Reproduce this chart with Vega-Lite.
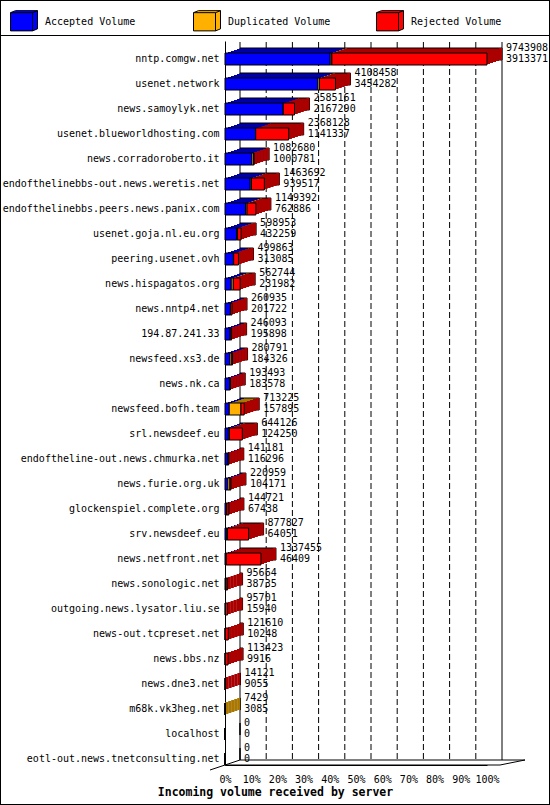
{
  "$schema": "https://vega.github.io/schema/vega-lite/v6.json",
  "width": 550,
  "height": 805,
  "autosize": {"type": "none"},
  "padding": 0,
  "background": "white",
  "config": {
    "view": {"stroke": "black", "strokeWidth": 2},
    "font": "DejaVu Sans Mono",
    "axis": {"labelFont": "DejaVu Sans Mono", "labelFontSize": 10, "labelColor": "black", "domainColor": "black", "domainWidth": 1}
  },
  "datasets": {
    "servers": [
      {"server": "nntp.comgw.net", "total": 9743908, "accepted": 3913371, "duplicated": 60000, "rejected": 5770537},
      {"server": "usenet.network", "total": 4108458, "accepted": 3454282, "duplicated": 60000, "rejected": 594176},
      {"server": "news.samoylyk.net", "total": 2585161, "accepted": 2167290, "duplicated": 0, "rejected": 417871},
      {"server": "usenet.blueworldhosting.com", "total": 2368128, "accepted": 1141337, "duplicated": 0, "rejected": 1226791},
      {"server": "news.corradoroberto.it", "total": 1082680, "accepted": 1000781, "duplicated": 60000, "rejected": 21899},
      {"server": "endofthelinebbs-out.news.weretis.net", "total": 1463692, "accepted": 939517, "duplicated": 45000, "rejected": 479175},
      {"server": "endofthelinebbs.peers.news.panix.com", "total": 1149392, "accepted": 762886, "duplicated": 55000, "rejected": 331506},
      {"server": "usenet.goja.nl.eu.org", "total": 598953, "accepted": 432259, "duplicated": 35000, "rejected": 131694},
      {"server": "peering.usenet.ovh", "total": 499863, "accepted": 313085, "duplicated": 10000, "rejected": 176778},
      {"server": "news.hispagatos.org", "total": 562744, "accepted": 231982, "duplicated": 75000, "rejected": 255762},
      {"server": "news.nntp4.net", "total": 260935, "accepted": 201722, "duplicated": 0, "rejected": 59213},
      {"server": "194.87.241.33", "total": 246093, "accepted": 195898, "duplicated": 0, "rejected": 50195},
      {"server": "newsfeed.xs3.de", "total": 280791, "accepted": 184326, "duplicated": 70000, "rejected": 26465},
      {"server": "news.nk.ca", "total": 193493, "accepted": 183578, "duplicated": 0, "rejected": 9915},
      {"server": "newsfeed.bofh.team", "total": 713225, "accepted": 157895, "duplicated": 435000, "rejected": 120330},
      {"server": "srl.newsdeef.eu", "total": 644126, "accepted": 124250, "duplicated": 40000, "rejected": 479876},
      {"server": "endoftheline-out.news.chmurka.net", "total": 141181, "accepted": 116296, "duplicated": 0, "rejected": 24885},
      {"server": "news.furie.org.uk", "total": 220959, "accepted": 104171, "duplicated": 80000, "rejected": 36788},
      {"server": "glockenspiel.complete.org", "total": 144721, "accepted": 67438, "duplicated": 0, "rejected": 77283},
      {"server": "srv.newsdeef.eu", "total": 877827, "accepted": 64051, "duplicated": 30000, "rejected": 783776},
      {"server": "news.netfront.net", "total": 1337455, "accepted": 46409, "duplicated": 0, "rejected": 1291046},
      {"server": "news.sonologic.net", "total": 95664, "accepted": 38735, "duplicated": 0, "rejected": 56929},
      {"server": "outgoing.news.lysator.liu.se", "total": 95701, "accepted": 15940, "duplicated": 0, "rejected": 79761},
      {"server": "news-out.tcpreset.net", "total": 121610, "accepted": 10248, "duplicated": 0, "rejected": 111362},
      {"server": "news.bbs.nz", "total": 113423, "accepted": 9916, "duplicated": 0, "rejected": 103507},
      {"server": "news.dne3.net", "total": 14121, "accepted": 9055, "duplicated": 0, "rejected": 5066},
      {"server": "m68k.vk3heg.net", "total": 7429, "accepted": 3085, "duplicated": 4344, "rejected": 0},
      {"server": "localhost", "total": 0, "accepted": 0, "duplicated": 0, "rejected": 0},
      {"server": "eotl-out.news.tnetconsulting.net", "total": 0, "accepted": 0, "duplicated": 0, "rejected": 0}
    ],
    "grid": [
      {"tick": 0}, {"tick": 974390.8}, {"tick": 1948781.6}, {"tick": 2923172.4}, {"tick": 3897563.2},
      {"tick": 4871954}, {"tick": 5846344.8}, {"tick": 6820735.6}, {"tick": 7795126.4}, {"tick": 8769517.2},
      {"tick": 9743908}
    ]
  },
  "resolve": {"scale": {"x": "independent"}},
  "layer": [
    {
      "data": {"name": "servers"},
      "layer": [
        {
          "data": {"name": "grid"},
          "transform": [{"filter": "datum.tick > 0 && datum.tick < 9743900"}],
          "mark": {"type": "rule", "color": "black", "strokeDash": [6, 3], "xOffset": 15, "yOffset": -17, "y2Offset": 1},
          "encoding": {
            "x": {
              "field": "tick", "type": "quantitative",
              "scale": {"domain": [0, 9743908], "range": [225, 487], "nice": false},
              "axis": {
                "orient": "bottom", "offset": -40, "values": [0, 974390.8, 1948781.6, 2923172.4, 3897563.2, 4871954, 5846344.8, 6820735.6, 7795126.4, 8769517.2, 9743908],
                "labelExpr": "format(datum.value / 9743908, '.0%')", "labelOverlap": false, "labelFlush": false,
                "ticks": false, "tickSize": 0, "labelPadding": 9, "grid": false, "domain": true,
                "title": "Incoming volume received by server", "titleFont": "DejaVu Sans Mono", "titleFontWeight": "bold", "titleFontSize": 11.5,
                "titleColor": "black", "titleX": 275, "titleY": 27, "titleAlign": "center", "titleBaseline": "middle", "titleAnchor": null
              }
            },
            "y": {
              "datum": "nntp.comgw.net", "type": "nominal",
              "scale": {
                "domain": ["nntp.comgw.net", "usenet.network", "news.samoylyk.net", "usenet.blueworldhosting.com", "news.corradoroberto.it", "endofthelinebbs-out.news.weretis.net", "endofthelinebbs.peers.news.panix.com", "usenet.goja.nl.eu.org", "peering.usenet.ovh", "news.hispagatos.org", "news.nntp4.net", "194.87.241.33", "newsfeed.xs3.de", "news.nk.ca", "newsfeed.bofh.team", "srl.newsdeef.eu", "endoftheline-out.news.chmurka.net", "news.furie.org.uk", "glockenspiel.complete.org", "srv.newsdeef.eu", "news.netfront.net", "news.sonologic.net", "outgoing.news.lysator.liu.se", "news-out.tcpreset.net", "news.bbs.nz", "news.dne3.net", "m68k.vk3heg.net", "localhost", "eotl-out.news.tnetconsulting.net"],
                "range": [41, 765], "paddingInner": 0.52, "paddingOuter": 0.24, "align": 1
              },
              "axis": {"orient": "left", "offset": -225, "ticks": false, "tickSize": 0, "labelPadding": 6, "labelLimit": 300, "domain": true, "grid": false, "title": null}
            },
            "y2": {"datum": "eotl-out.news.tnetconsulting.net"}
          }
        },
        {
          "data": {"name": "grid"},
          "transform": [{"filter": "datum.tick == 0 || datum.tick > 9743900"}],
          "mark": {"type": "rule", "color": "black", "xOffset": 15, "yOffset": -17, "y2Offset": 1},
          "encoding": {
            "x": {"field": "tick", "type": "quantitative"},
            "y": {"datum": "nntp.comgw.net", "type": "nominal"},
            "y2": {"datum": "eotl-out.news.tnetconsulting.net"}
          }
        },
        {
          "data": {"values": [{}]},
          "mark": {"type": "rule", "color": "black", "xOffset": 15, "x2Offset": 38, "yOffset": 1},
          "encoding": {
            "x": {"datum": 0, "type": "quantitative"},
            "x2": {"datum": 9743908},
            "y": {"datum": "eotl-out.news.tnetconsulting.net", "type": "nominal"}
          }
        },
        {
          "data": {"values": [{}]},
          "mark": {"type": "rule", "color": "black", "x2Offset": 13, "yOffset": 6},
          "encoding": {
            "x": {"datum": 0, "type": "quantitative"},
            "x2": {"datum": 9743908},
            "y": {"datum": "eotl-out.news.tnetconsulting.net", "type": "nominal"}
          }
        },
        {
          "data": {"values": [{}]},
          "mark": {"type": "rule", "color": "black", "xOffset": 13, "x2Offset": 38, "yOffset": 6, "y2Offset": 1},
          "encoding": {
            "x": {"datum": 9743908, "type": "quantitative"},
            "x2": {"datum": 9743908},
            "y": {"datum": "eotl-out.news.tnetconsulting.net", "type": "nominal"},
            "y2": {"datum": "eotl-out.news.tnetconsulting.net"}
          }
        },
        {
          "data": {"values": [{}]},
          "mark": {"type": "rule", "color": "black", "xOffset": -15, "x2Offset": 15, "yOffset": 11, "y2Offset": 1},
          "encoding": {
            "x": {"datum": 0, "type": "quantitative"},
            "x2": {"datum": 0},
            "y": {"datum": "eotl-out.news.tnetconsulting.net", "type": "nominal"},
            "y2": {"datum": "eotl-out.news.tnetconsulting.net"}
          }
        },
        {
          "transform": [{"fold": ["accepted", "duplicated", "rejected"], "as": ["kind", "volume"]}],
          "mark": {"type": "bar", "xOffset": 15, "x2Offset": 15, "yOffset": -5},
          "encoding": {
            "x": {"field": "volume", "type": "quantitative", "stack": "zero"},
            "y": {"field": "server", "type": "nominal", "sort": null},
            "fill": {"field": "kind", "type": "nominal", "scale": {"domain": ["rejected", "duplicated", "accepted"], "range": ["#aa0000", "#aa7800", "#0000aa"]}, "legend": null},
            "order": {"field": "kind"}
          }
        },
        {
          "mark": {"type": "bar", "filled": false, "color": "black", "strokeWidth": 1, "xOffset": 15, "x2Offset": 15, "yOffset": -5},
          "encoding": {
            "x": {"field": "total", "type": "quantitative"},
            "x2": {"datum": 0},
            "y": {"field": "server", "type": "nominal", "sort": null}
          }
        },
        {
          "transform": [{"fold": ["accepted", "duplicated", "rejected"], "as": ["kind", "volume"]}],
          "mark": {"type": "bar", "xOffset": 12, "x2Offset": 12, "yOffset": -4},
          "encoding": {
            "x": {"field": "volume", "type": "quantitative", "stack": "zero"},
            "y": {"field": "server", "type": "nominal", "sort": null},
            "fill": {"field": "kind", "type": "nominal", "legend": null},
            "order": {"field": "kind"}
          }
        },
        {
          "transform": [{"fold": ["accepted", "duplicated", "rejected"], "as": ["kind", "volume"]}],
          "mark": {"type": "bar", "xOffset": 9, "x2Offset": 9, "yOffset": -3},
          "encoding": {
            "x": {"field": "volume", "type": "quantitative", "stack": "zero"},
            "y": {"field": "server", "type": "nominal", "sort": null},
            "fill": {"field": "kind", "type": "nominal", "legend": null},
            "order": {"field": "kind"}
          }
        },
        {
          "transform": [{"fold": ["accepted", "duplicated", "rejected"], "as": ["kind", "volume"]}],
          "mark": {"type": "bar", "xOffset": 6, "x2Offset": 6, "yOffset": -2},
          "encoding": {
            "x": {"field": "volume", "type": "quantitative", "stack": "zero"},
            "y": {"field": "server", "type": "nominal", "sort": null},
            "fill": {"field": "kind", "type": "nominal", "legend": null},
            "order": {"field": "kind"}
          }
        },
        {
          "transform": [{"fold": ["accepted", "duplicated", "rejected"], "as": ["kind", "volume"]}],
          "mark": {"type": "bar", "xOffset": 3, "x2Offset": 3, "yOffset": -1},
          "encoding": {
            "x": {"field": "volume", "type": "quantitative", "stack": "zero"},
            "y": {"field": "server", "type": "nominal", "sort": null},
            "fill": {"field": "kind", "type": "nominal", "legend": null},
            "order": {"field": "kind"}
          }
        },
        {
          "layer": [
            {"mark": {"type": "bar", "xOffset": 12, "x2Offset": 15, "yOffset": -5}},
            {"mark": {"type": "bar", "xOffset": 9, "x2Offset": 12, "yOffset": -4}},
            {"mark": {"type": "bar", "xOffset": 6, "x2Offset": 9, "yOffset": -3}},
            {"mark": {"type": "bar", "xOffset": 3, "x2Offset": 6, "yOffset": -2}},
            {"mark": {"type": "bar", "xOffset": 0, "x2Offset": 3, "yOffset": -1}}
          ],
          "transform": [
            {"filter": "datum.total > 0"},
            {"calculate": "datum.rejected > 0 ? 'rejected' : (datum.duplicated > 0 ? 'duplicated' : 'accepted')", "as": "last"}
          ],
          "encoding": {
            "x": {"field": "total", "type": "quantitative"},
            "x2": {"field": "total"},
            "y": {"field": "server", "type": "nominal", "sort": null},
            "fill": {"field": "last", "type": "nominal", "legend": null}
          }
        },
        {
          "transform": [{"fold": ["accepted", "duplicated", "rejected"], "as": ["type", "volume"]}],
          "mark": {"type": "bar", "stroke": "black", "strokeWidth": 1},
          "encoding": {
            "x": {"field": "volume", "type": "quantitative", "stack": "zero"},
            "y": {"field": "server", "type": "nominal", "sort": null},
            "color": {
              "field": "type", "type": "nominal",
              "scale": {"domain": ["accepted", "duplicated", "rejected"], "range": ["#0000ff", "#ffb000", "#ff0000"]},
              "legend": {
                "orient": "none", "legendX": 10, "legendY": 8, "direction": "horizontal", "columns": 3, "gridAlign": "all", "columnPadding": 43,
                "title": null, "padding": 0,
                "symbolType": "M-1,-0.7L-0.63,-0.85L1,-0.85L1,0.5L0.63,0.65L-1,0.65Z M-1,-0.7L0.63,-0.7L0.63,0.65 M0.63,-0.7L1,-0.85",
                "symbolSize": 729, "symbolStrokeColor": "black", "symbolStrokeWidth": 1, "symbolOpacity": 1,
                "labelFont": "DejaVu Sans Mono", "labelFontSize": 10, "labelColor": "black", "labelOffset": 7,
                "labelExpr": "datum.label == 'accepted' ? 'Accepted Volume' : (datum.label == 'duplicated' ? 'Duplicated Volume' : 'Rejected Volume')",
                "encode": {"symbols": {"update": {"stroke": {"value": "black"}, "strokeWidth": {"value": 1}}}}
              }
            },
            "order": {"field": "type"}
          }
        },
        {
          "mark": {"type": "text", "align": "left", "baseline": "middle", "dx": 19, "dy": -11, "font": "DejaVu Sans Mono", "fontSize": 10, "color": "black"},
          "encoding": {
            "x": {"field": "total", "type": "quantitative"},
            "y": {"field": "server", "type": "nominal", "sort": null},
            "text": {"field": "total", "type": "quantitative", "format": "d"}
          }
        },
        {
          "mark": {"type": "text", "align": "left", "baseline": "middle", "dx": 19, "dy": 0, "font": "DejaVu Sans Mono", "fontSize": 10, "color": "black"},
          "encoding": {
            "x": {"field": "total", "type": "quantitative"},
            "y": {"field": "server", "type": "nominal", "sort": null},
            "text": {"field": "accepted", "type": "quantitative", "format": "d"}
          }
        }
      ]
    },
    {
      "data": {"values": [{}]},
      "mark": {"type": "rule", "opacity": 0},
      "encoding": {
        "x": {
          "datum": 0, "type": "quantitative",
          "scale": {"domain": [0, 1]},
          "axis": {"orient": "top", "offset": -35, "domain": true, "domainColor": "black", "labels": false, "ticks": false, "grid": false, "title": null}
        }
      }
    }
  ]
}
